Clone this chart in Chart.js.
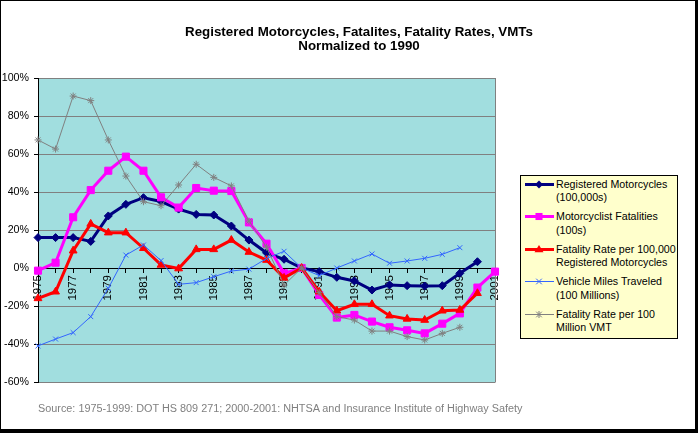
<!DOCTYPE html>
<html>
<head>
<meta charset="utf-8">
<script src="https://cdn.jsdelivr.net/npm/chart.js@4.4.1/dist/chart.umd.min.js"></script>
<style>
  body { margin: 0; width: 698px; height: 433px; background: #000; position: relative; overflow: hidden;
         font-family: "Liberation Sans", Arial, sans-serif; }
  #sheet { position: absolute; left: 1px; top: 1px; width: 694px; height: 428px; background: #fff; }
  #chart { position: absolute; left: 0; top: 0; }
  #title { position: absolute; left: 0; top: 25px; width: 718px; text-align: center;
           font-weight: bold; font-size: 13.33px; line-height: 14px; color: #000; }
  #legend { position: absolute; left: 520px; top: 175px; width: 156px; height: 162px;
            border: 1px solid #000; background: #FFFFCC; font-size: 10.67px; line-height: 13.4px; }
  .item { position: absolute; left: 0; width: 156px; height: 27px; }
  .item svg { position: absolute; left: 4px; top: 0; }
  .item .txt { position: absolute; left: 35px; top: 0; white-space: nowrap; color: #000; }
  #source { position: absolute; left: 38px; top: 402px; font-size: 10.85px; color: #808080; white-space: nowrap; }
</style>
</head>
<body>
<div id="sheet"></div>
<canvas id="chart" width="698" height="433"></canvas>
<div id="title">Registered Motorcycles, Fatalites, Fatality Rates, VMTs<br>Normalized to 1990</div>
<div id="legend"></div>
<div id="source">Source: 1975-1999: DOT HS 809 271; 2000-2001: NHTSA and Insurance Institute of Highway Safety</div>
<script>
// Données (en %, normalisé à 1990)
const years = ['1975', '1976', '1977', '1978', '1979', '1980', '1981', '1982', '1983', '1984',
  '1985', '1986', '1987', '1988', '1989', '1990', '1991', '1992', '1993', '1994',
  '1995', '1996', '1997', '1998', '1999', '2000', '2001'];
const tickYears = ['1975', '1977', '1979', '1981', '1983', '1985', '1987', '1989',
  '1991', '1993', '1995', '1997', '1999', '2001'];
const yTicks = [-60, -40, -20, 0, 20, 40, 60, 80, 100];

const registeredMotorcycles = [16, 16, 16, 14, 27.4, 33.5, 37, 35, 31, 28.2,
  27.9, 22.1, 14.7, 8, 4.6, 0, -1.9, -4.9, -6.8, -11.6,
  -8.9, -9.3, -9.5, -9.3, -2.8, 3.3, null];
const motorcyclistFatalities = [-1.4, 2.8, 26.7, 41, 51.2, 58.6, 51.2, 37.2, 31.8, 42.1,
  40.7, 40.5, 24, 12.8, -2.8, 0, -14.2, -26.1, -24.7, -28.2,
  -31.2, -32.8, -34.4, -29.3, -23.9, -10.3, -1.9];
const fatalityRateRegistered = [-16, -12.5, 9.1, 23.2, 18.6, 18.6, 10.4, 1.6, -0.3, 9.8,
  9.8, 14.7, 8.4, 4.2, -5.2, 0, -12.5, -22.5, -19.1, -19.1,
  -25.1, -26.8, -27.4, -22.5, -22.1, -13.3, null];
const vehicleMiles = [-41, -37.4, -34, -25.6, -10.7, 6.8, 12.1, 3.9, -8.6, -7.7,
  -4.6, -1.6, -0.6, 5, 8.8, 0, -4, 0, 3.7, 7.4,
  2.5, 3.7, 5.1, 7.2, 10.7, null, null];
const fatalityRateVmt = [67.4, 62.6, 90.5, 88.1, 67.4, 48.4, 34.9, 32.8, 43.7, 54.6,
  47.7, 43.2, 24.7, 11, -9, 0, -13, -25.6, -27.4, -33.2,
  -33.2, -36.1, -37.9, -34.4, -31.2, null, null];

const legendLines = [
  ['Registered Motorcycles', '(100,000s)'],
  ['Motorcyclist Fatalities', '(100s)'],
  ['Fatality Rate per 100,000', 'Registered Motorcycles'],
  ['Vehicle Miles Traveled', '(100 Millions)'],
  ['Fatality Rate per 100', 'Million VMT']
];

// Styles des séries
const series = [
  { data: registeredMotorcycles, color: '#000080', width: 3, point: 'rectRot', radius: 4 },
  { data: motorcyclistFatalities, color: '#FF00FF', width: 3, point: 'rect', radius: 5 },
  { data: fatalityRateRegistered, color: '#FF0000', width: 3, point: 'triangle', radius: 4.5 },
  { data: vehicleMiles, color: '#3366FF', width: 1, point: 'crossRot', radius: 3.5 },
  { data: fatalityRateVmt, color: '#808080', width: 1, point: 'star', radius: 3.5 }
];

const FONT = { family: '"Liberation Sans", Arial, sans-serif', size: 10.67 };

// Fond de la zone de tracé + bord droit gris
const plotArea = {
  id: 'plotArea',
  beforeDraw(chart) {
    const { ctx, chartArea: a } = chart;
    ctx.save();
    ctx.fillStyle = '#A1DEDF';
    ctx.fillRect(a.left, a.top, a.right - a.left, a.bottom - a.top);
    ctx.restore();
  },
  beforeDatasetsDraw(chart) {
    const { ctx, chartArea: a } = chart;
    ctx.save();
    ctx.strokeStyle = '#808080';
    ctx.lineWidth = 1;
    ctx.beginPath();
    ctx.moveTo(a.right + 0.5, a.top);
    ctx.lineTo(a.right + 0.5, a.bottom + 0.5);
    ctx.stroke();
    ctx.restore();
  }
};

new Chart(document.getElementById('chart'), {
  type: 'line',
  data: {
    labels: years,
    datasets: series.map((s, i) => ({
      label: legendLines[i].join(' '),
      data: s.data,
      borderColor: s.color,
      backgroundColor: s.color,
      borderWidth: s.width,
      pointStyle: s.point,
      pointRadius: s.radius,
      pointBorderWidth: 1,
      pointBorderColor: s.color,
      pointBackgroundColor: s.color,
      tension: 0,
      clip: false,
      order: series.length - i
    }))
  },
  options: {
    responsive: false,
    animation: false,
    events: [],
    layout: { padding: { left: 0, top: 78, right: 203, bottom: 51 } },
    plugins: {
      legend: { display: false },
      tooltip: { enabled: false }
    },
    scales: {
      x: {
        position: { y: 0 },
        offset: false,
        grid: { drawOnChartArea: false, tickLength: 4, tickColor: '#000' },
        border: { color: '#000', width: 1 },
        ticks: {
          autoSkip: false,
          minRotation: 90,
          maxRotation: 90,
          padding: 3,
          color: '#000',
          font: { family: FONT.family, size: 11.5 },
          callback(v, i) {
            return tickYears.includes(years[i]) ? years[i] : '';
          }
        },
        afterFit(scale) { scale.height = 0; }
      },
      y: {
        min: -60,
        max: 100,
        afterBuildTicks(scale) { scale.ticks = yTicks.map(v => ({ value: v })); },
        grid: {
          color: c => (c.tick && c.tick.value === 0 ? '#000' : '#808080'),
          tickLength: 4,
          tickColor: '#000'
        },
        border: { color: '#000', width: 1 },
        ticks: {
          padding: 5,
          color: '#000',
          font: FONT,
          callback: v => v + '%'
        },
        afterFit(scale) { scale.width = 38; }
      }
    }
  },
  plugins: [plotArea]
});

// Légende HTML
function swatch(s) {
  const cx = 14, cy = 6.5, r = s.radius;
  let mark = '';
  if (s.point === 'rectRot') {
    mark = `<polygon points="${cx},${cy - r} ${cx + r},${cy} ${cx},${cy + r} ${cx - r},${cy}" fill="${s.color}"/>`;
  } else if (s.point === 'rect') {
    const h = r * Math.SQRT1_2;
    mark = `<rect x="${cx - h}" y="${cy - h}" width="${2 * h}" height="${2 * h}" fill="${s.color}"/>`;
  } else if (s.point === 'triangle') {
    mark = `<polygon points="${cx},${cy - r} ${cx + r},${cy + r * 0.6} ${cx - r},${cy + r * 0.6}" fill="${s.color}"/>`;
  } else {
    const d = r * 0.8;
    mark = `<path d="M${cx - d} ${cy - d}L${cx + d} ${cy + d}M${cx + d} ${cy - d}L${cx - d} ${cy + d}` +
      (s.point === 'star' ? `M${cx} ${cy - r}L${cx} ${cy + r}M${cx - r} ${cy}L${cx + r} ${cy}` : '') +
      `" stroke="${s.color}" stroke-width="1"/>`;
  }
  return `<svg width="29" height="13"><line x1="0" y1="${cy}" x2="29" y2="${cy}" stroke="${s.color}" stroke-width="${s.width}"/>${mark}</svg>`;
}

const legend = document.getElementById('legend');
series.forEach((s, i) => {
  const item = document.createElement('div');
  item.className = 'item';
  item.style.top = (1.6 + i * 32.5) + 'px';
  item.innerHTML = swatch(s) + `<div class="txt">${legendLines[i].join('<br>')}</div>`;
  legend.appendChild(item);
});
</script>
</body>
</html>
